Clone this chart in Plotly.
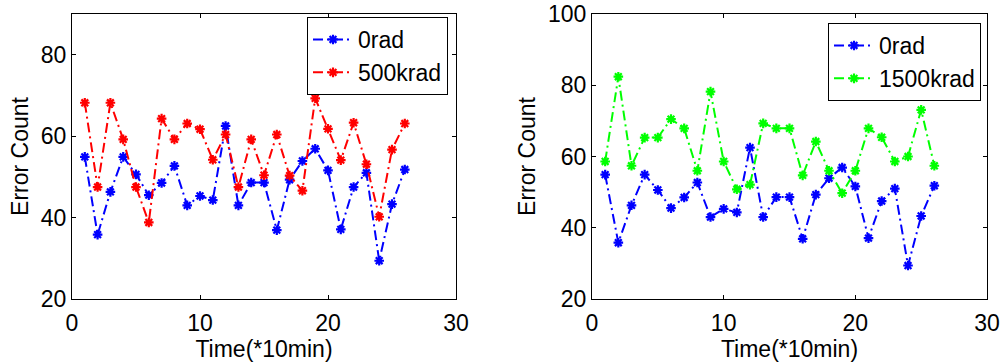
import plotly.graph_objects as go

time = list(range(1, 27))
rad0 = [54.9, 35.8, 46.3, 54.9, 50.6, 45.5, 48.5, 52.7, 43, 45.3, 44.3, 62.5, 43,
        48.6, 48.6, 36.9, 49.3, 53.9, 56.9, 51.6, 37.1, 47.5, 51, 29.4, 43.3, 51.8]
krad500 = [68.2, 47.5, 68.2, 59.2, 47.5, 38.8, 64.3, 59.2, 63.1, 61.7, 54.2, 60.4, 47.5,
           59.2, 50.4, 60.4, 50.3, 46.6, 69.3, 61.8, 54.1, 63.3, 53.1, 40.2, 56.7, 63.1]
krad1500 = [58.6, 82.4, 57.4, 65.3, 65.3, 70.5, 67.9, 56, 78.2, 58.6, 50.8, 52.1, 69.3,
            67.9, 67.9, 54.7, 64.2, 56, 49.7, 56, 67.9, 65.4, 58.6, 60, 73.1, 57.4]

x_ticks = [0, 10, 20, 30]
y_ticks_left = [20, 40, 60, 80]
y_ticks_right = [20, 40, 60, 80, 100]

FONT = "Liberation Sans, Arial, sans-serif"
FS = 23
W, H = 1005, 363


def trace(y, name, color, xa, ya, legend):
    return go.Scatter(
        x=time, y=y, name=name, mode="lines+markers", xaxis=xa, yaxis=ya,
        legend=legend,
        line=dict(color=color, width=2, dash="10px,4px,2px,4px"),
        marker=dict(symbol="asterisk-open", size=8, color=color,
                    line=dict(color=color, width=2.2)),
    )


fig = go.Figure()
fig.add_trace(trace(rad0, "0rad", "#0000FF", "x", "y", "legend"))
fig.add_trace(trace(krad500, "500krad", "#FF0000", "x", "y", "legend"))
fig.add_trace(trace(rad0, "0rad", "#0000FF", "x2", "y2", "legend2"))
fig.add_trace(trace(krad1500, "1500krad", "#00FF00", "x2", "y2", "legend2"))

ydom = [1 - 299 / H, 1 - 14 / H]
axis_common = dict(
    showgrid=False, zeroline=False, showline=True, linecolor="black",
    linewidth=1, mirror="ticks", ticks="inside", ticklen=4, tickcolor="black",
    automargin=False,
    tickfont=dict(family=FONT, size=FS, color="black"),
)

fig.update_layout(
    width=W, height=H, margin=dict(l=0, r=0, t=0, b=0, autoexpand=False),
    paper_bgcolor="white", plot_bgcolor="white",
    font=dict(family=FONT, size=FS, color="black"),
    xaxis=dict(domain=[72 / W, 456 / W], range=[0, 30], tickvals=x_ticks,
               anchor="y", ticklabelstandoff=3,
               title=dict(text="Time(*10min)", standoff=0,
                          font=dict(family=FONT, size=FS)),
               **axis_common),
    yaxis=dict(domain=ydom, range=[20, 90], tickvals=y_ticks_left, anchor="x",
               title=dict(text="Error Count", standoff=5,
                          font=dict(family=FONT, size=FS)),
               **axis_common),
    xaxis2=dict(domain=[592 / W, 987 / W], range=[0, 30], tickvals=x_ticks,
                anchor="y2", ticklabelstandoff=3,
                title=dict(text="Time(*10min)", standoff=0,
                           font=dict(family=FONT, size=FS)),
                **axis_common),
    yaxis2=dict(domain=ydom, range=[20, 100], tickvals=y_ticks_right,
                anchor="x2",
                title=dict(text="Error Count", standoff=5,
                           font=dict(family=FONT, size=FS)),
                **axis_common),
    legend=dict(x=448 / W, y=1 - 17 / H, xanchor="right", yanchor="top",
                bordercolor="black", borderwidth=1, bgcolor="white",
                font=dict(family=FONT, size=FS), tracegroupgap=0,
                itemwidth=40),
    legend2=dict(x=981 / W, y=1 - 23 / H, xanchor="right", yanchor="top",
                 bordercolor="black", borderwidth=1, bgcolor="white",
                 font=dict(family=FONT, size=FS), tracegroupgap=0,
                 itemwidth=40),
    showlegend=True,
)

fig.write_html("out.html")
